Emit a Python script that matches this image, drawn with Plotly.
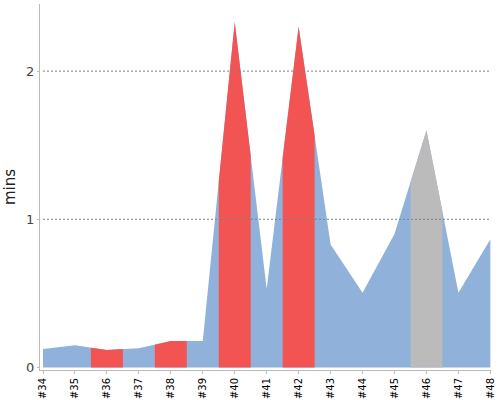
import plotly.graph_objects as go

categories = ["#34", "#35", "#36", "#37", "#38", "#39", "#40", "#41",
              "#42", "#43", "#44", "#45", "#46", "#47", "#48"]
values = [0.125, 0.15, 0.118, 0.13, 0.178, 0.178, 2.33, 0.53,
          2.30, 0.83, 0.505, 0.90, 1.60, 0.505, 0.865]
groups = ["base", "base", "red", "base", "red", "base", "red", "base",
          "red", "base", "base", "base", "gray", "base", "base"]
grid_values = [1, 2]
y_ticks = [0, 1, 2]

colors = {"base": "#8FB1DA", "red": "#F25454", "gray": "#BBBBBB"}

n = len(categories)
xs = list(range(n))

fig = go.Figure()
# full base area
fig.add_trace(go.Scatter(x=xs, y=values, mode="lines", fill="tozeroy",
                         fillcolor=colors["base"], line=dict(width=0, color=colors["base"]),
                         hoverinfo="skip", showlegend=False))

# highlighted segments centred on their category
for i, g in enumerate(groups):
    if g == "base":
        continue
    sx, sy = [], []
    if i > 0:
        sx.append(i - 0.5)
        sy.append((values[i - 1] + values[i]) / 2)
    sx.append(i)
    sy.append(values[i])
    if i < n - 1:
        sx.append(i + 0.5)
        sy.append((values[i + 1] + values[i]) / 2)
    fig.add_trace(go.Scatter(x=sx, y=sy, mode="lines", fill="tozeroy",
                             fillcolor=colors[g], line=dict(width=0, color=colors[g]),
                             hoverinfo="skip", showlegend=False))

shapes = []
for v in grid_values:
    shapes.append(dict(type="line", xref="x", yref="y", x0=0, x1=n - 1.03, y0=v, y1=v,
                       layer="above", line=dict(color="#808080", width=1, dash="2px,2px")))

fig.update_layout(
    width=500, height=400,
    margin=dict(l=40, r=9, t=4, b=30, autoexpand=False),
    paper_bgcolor="white", plot_bgcolor="white",
    font=dict(family="DejaVu Sans, sans-serif", color="#444"),
    shapes=shapes,
    xaxis=dict(range=[-0.094, n - 1 + 0.02], tickvals=xs, ticktext=categories,
               tickangle=-90, ticks="outside", ticklen=3, tickcolor="#bbb",
               showline=True, linecolor="#bbb", linewidth=1,
               showgrid=False, zeroline=False, automargin=False,
               tickfont=dict(family="DejaVu Sans", size=10, color="#000")),
    yaxis=dict(range=[-0.017, 2.453], tickvals=y_ticks, ticktext=[str(t) for t in y_ticks],
               ticks="outside", ticklen=2, tickcolor="#bbb",
               showline=True, linecolor="#bbb", linewidth=1,
               showgrid=False, zeroline=False, automargin=False,
               tickfont=dict(family="DejaVu Sans", size=13, color="#444"),
               title=dict(text="mins", font=dict(family="DejaVu Sans", size=15, color="#222"),
                          standoff=6)),
)

fig.write_html("out.html")
